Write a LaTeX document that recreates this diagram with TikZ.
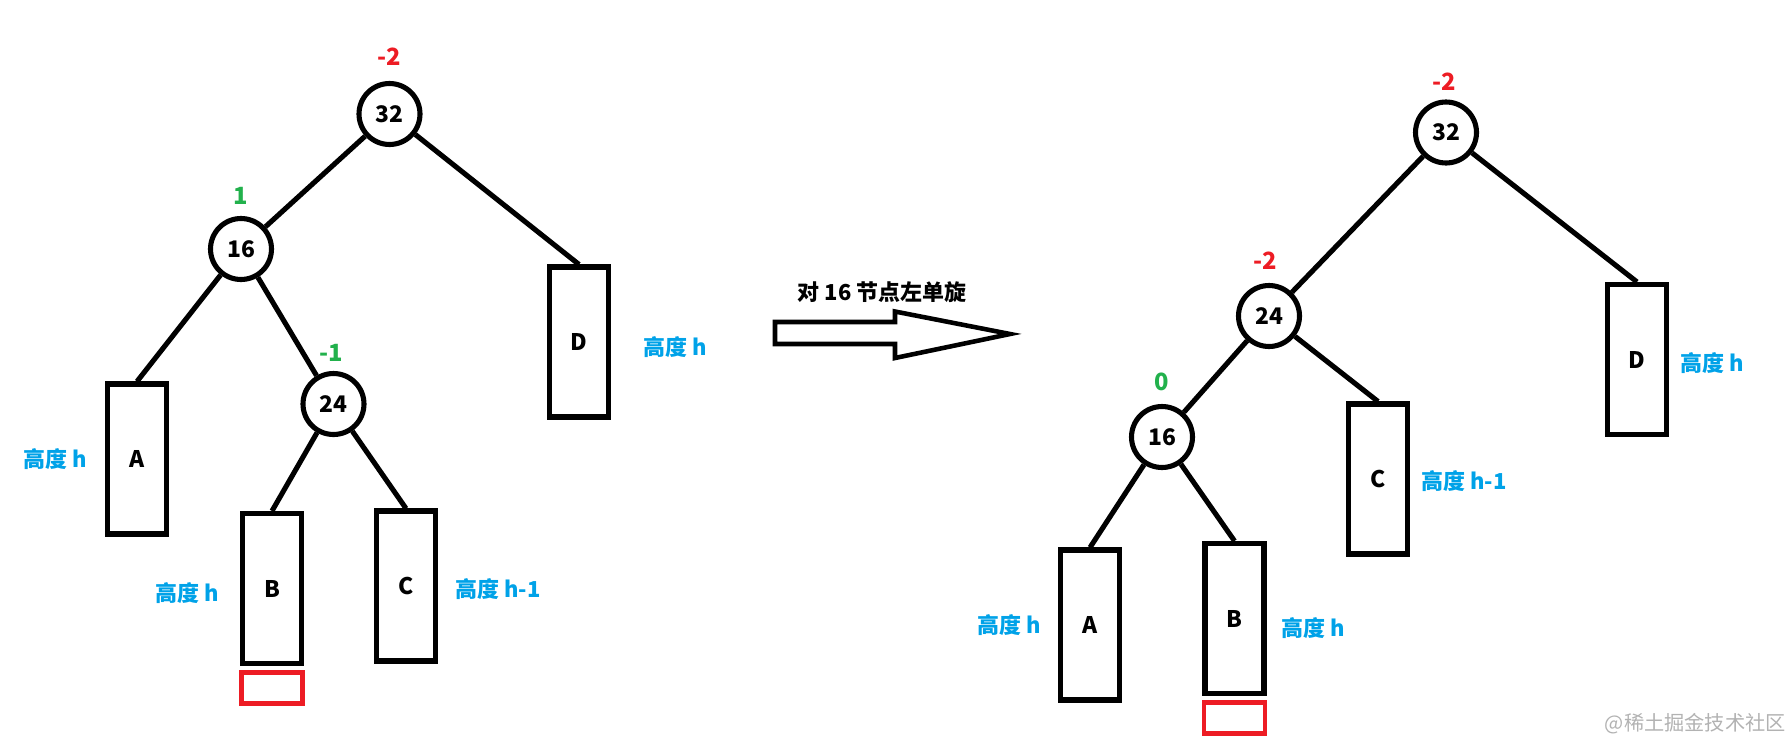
\documentclass[tikz,border=0pt]{standalone}
\usepackage{fontspec}
\setmainfont{Noto Sans CJK SC}
\usepackage{tikz}
\usetikzlibrary{positioning}
\definecolor{PaintRed}{HTML}{ED1C24}
\definecolor{PaintGreen}{HTML}{22B14C}
\definecolor{PaintBlue}{HTML}{00A2E8}
\tikzset{
  avlnode/.style={draw, circle, line width=2.9pt, minimum size=1.22cm, inner sep=0pt,
    font=\bfseries\fontsize{13}{15}\selectfont},
  subtree/.style={draw, line width=2.9pt, minimum width=1.18cm, minimum height=3.0cm,
    inner sep=0pt, font=\bfseries\fontsize{13}{15}\selectfont},
  newleaf/.style={draw=PaintRed, line width=2.7pt, minimum width=1.22cm,
    minimum height=0.62cm, inner sep=0pt},
  hlabel/.style={text=PaintBlue, inner sep=0pt, font=\bfseries\fontsize{12.5}{14}\selectfont},
  bfac/.style={text=#1, inner sep=0pt, font=\bfseries\fontsize{13.5}{15}\selectfont},
  bfac/.default={PaintRed},
  treeline/.style={line width=2.9pt},
  fatarr/.style={line width=2.6pt, line join=miter},
}

\begin{document}
\begin{tikzpicture}[x=0.02cm, y=-0.02cm]
  \useasboundingbox (0,0) rectangle (1791,741);

  \node[avlnode] (l32) at (389.5,114) {32};
  \node[avlnode] (l16) at (241,249) {16};
  \node[avlnode] (l24) at (333.5,404) {24};
  \node[bfac] (l32b) at (389.5,57) {-2};
  \node[bfac=PaintGreen] (l16b) at (241,196) {1};
  \node[bfac=PaintGreen] (l24b) at (331,353) {-1};

  \node[subtree] (lD) at (579,342) {D};
  \node[subtree] (lA) at (137,459) {A};
  \node[subtree] (lB) at (272,588.5) {B};
  \node[subtree] (lC) at (406,586) {C};
  \node[newleaf, below=0.08cm of lB] (lnew) {};

  \node[hlabel, right=0.64cm of lD, yshift=-0.1cm] (lDh) {高度 h};
  \node[hlabel, left=0.36cm of lA] (lAh) {高度 h};
  \node[hlabel, left=0.42cm of lB, yshift=-0.09cm] (lBh) {高度 h};
  \node[hlabel, right=0.34cm of lC, yshift=-0.06cm] (lCh) {高度 h-1};

  \draw[treeline] (l32) -- (l16);
  \draw[treeline] (l32) -- (lD.north);
  \draw[treeline] (l16) -- (lA.north);
  \draw[treeline] (l16) -- (l24);
  \draw[treeline] (l24) -- (lB.north);
  \draw[treeline] (l24) -- (lC.north);

  \node[font=\bfseries\fontsize{12.5}{14}\selectfont, inner sep=0pt] (rotcap) at (882,292.5) {对 16 节点左单旋};
  \draw[fatarr] (775,322) -- (895,322) -- (895,311.5) -- (1010,334)
    -- (895,358) -- (895,344) -- (775,344) -- cycle;

  \node[avlnode] (r32) at (1446,132.5) {32};
  \node[avlnode] (r24) at (1269,316) {24};
  \node[avlnode] (r16) at (1162,437) {16};
  \node[bfac] (r32b) at (1444,82) {-2};
  \node[bfac] (r24b) at (1265,261) {-2};
  \node[bfac=PaintGreen] (r16b) at (1162,382) {0};

  \node[subtree] (rD) at (1637,359.5) {D};
  \node[subtree] (rC) at (1378,479) {C};
  \node[subtree] (rA) at (1090,625) {A};
  \node[subtree] (rB) at (1234.5,618.5) {B};
  \node[newleaf, below=0.08cm of rB] (rnew) {};

  \node[hlabel, right=0.22cm of rD, yshift=-0.07cm] (rDh) {高度 h};
  \node[hlabel, right=0.22cm of rC, yshift=-0.04cm] (rCh) {高度 h-1};
  \node[hlabel, left=0.34cm of rA] (rAh) {高度 h};
  \node[hlabel, right=0.3cm of rB, yshift=-0.19cm] (rBh) {高度 h};

  \draw[treeline] (r32) -- (r24);
  \draw[treeline] (r32) -- (rD.north);
  \draw[treeline] (r24) -- (r16);
  \draw[treeline] (r24) -- (rC.north);
  \draw[treeline] (r16) -- (rA.north);
  \draw[treeline] (r16) -- (rB.north);

  \node[text=black!30, font=\fontsize{11.5}{13}\selectfont, anchor=east, inner sep=0pt]
    (mark) at (1786,724) {@稀土掘金技术社区};
\end{tikzpicture}
\end{document}
